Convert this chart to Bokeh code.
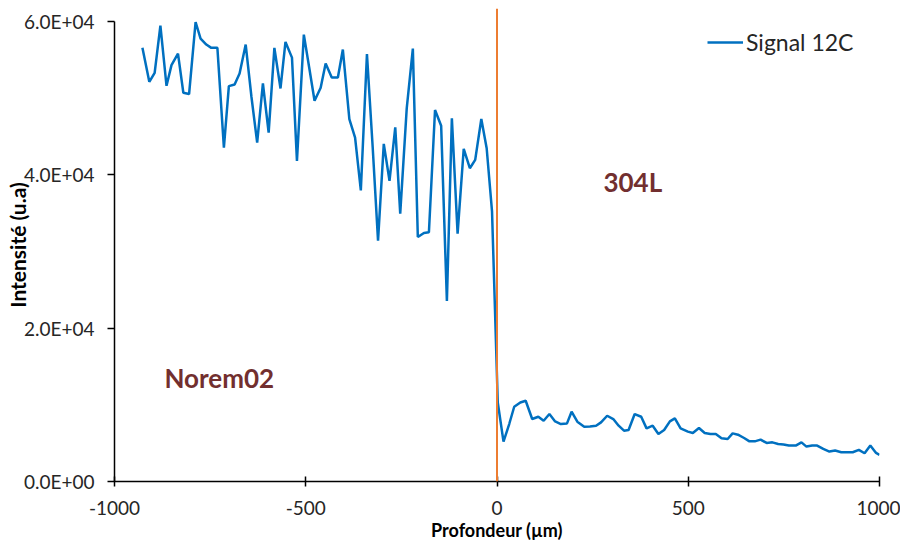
from bokeh.plotting import figure
from bokeh.models import Span, Range1d, FixedTicker, Legend, LegendItem
from bokeh.core.properties import value
from bokeh.embed import file_html
from bokeh.resources import INLINE

# Depth (µm) and 12C signal intensity (u.a)
depth = [-927, -909, -895, -880, -864, -851, -834, -820, -805, -788, -775, -760, -747, -731,
         -714, -701, -686, -673, -657, -642, -627, -612, -597, -582, -566, -553, -536, -523,
         -505, -491, -477, -461, -448, -432, -416, -403, -386, -371, -356, -340, -325, -311,
         -296, -281, -266, -253, -236, -220, -207, -191, -178, -162, -146, -131, -118, -103,
         -87, -71, -57, -41, -27, -13,
         2, 17, 32, 45, 61, 75, 92, 108, 122, 137, 152, 167, 183, 195, 210, 228, 243, 259,
         272, 288, 304, 318, 332, 344, 360, 377, 391, 407, 422, 437, 452, 465, 480, 499,
         512, 528, 543, 558, 572, 587, 603, 616, 630, 646, 660, 674, 689, 705, 720, 735,
         749, 763, 781, 796, 809, 824, 837, 853, 869, 884, 900, 916, 930, 946, 961, 976,
         991, 1000]
intensity = [56500, 52080, 53250, 59400, 51560, 54250, 55750, 50650, 50480, 59870, 57700, 56930,
             56500, 56500, 43500, 51520, 51730, 53160, 56930, 50130, 44150, 51860, 45450, 56500,
             51210, 57270, 55230, 41780, 58220, 53940, 49610, 51300, 54460, 52640, 52640, 56280,
             47230, 44800, 37920, 55680, 43550, 31390, 43990, 39180, 46140, 34900, 48610, 56400,
             31860, 32380, 32470, 48400, 46360, 23510, 47310, 32300, 43340, 40820, 41910, 47230,
             43420, 35190,
             10300, 5190, 7490, 9740, 10300, 10520, 8140, 8440, 7920, 8790, 7830, 7490, 7570,
             9090, 7790, 7140, 7180, 7270, 7700, 8570, 8140, 7270, 6620, 6710, 8790, 8440,
             6920, 7270, 6190, 6710, 7830, 8220, 6920, 6500, 6320, 6970, 6320, 6190, 6190,
             5620, 5540, 6270, 6100, 5670, 5230, 5230, 5450, 5020, 5100, 4890, 4810, 4680,
             4680, 5100, 4550, 4680, 4680, 4250, 3900, 4030, 3810, 3810, 3810, 4120, 3680,
             4680, 3720, 3470]

x_ticks = [-1000, -500, 0, 500, 1000]
x_tick_labels = ["-1000", "-500", "0", "500", "1000"]
y_ticks = [0, 20000, 40000, 60000]
y_tick_labels = ["0.0E+00", "2.0E+04", "4.0E+04", "6.0E+04"]

series_name = "Signal 12C"
region_labels = ["Norem02", "304L"]
interface_depth = 0

FONT = "Lato"
TICK_COLOR = "#262626"

p = figure(width=900, height=543, output_backend="svg", toolbar_location=None,
           x_range=Range1d(-1000, 1000), y_range=Range1d(0, 61630),
           min_border_left=114, min_border_right=21, min_border_top=8,
           min_border_bottom=62)
p.grid.visible = False
p.outline_line_color = None
p.background_fill_color = "white"
p.border_fill_color = "white"

r = p.line(depth, intensity, line_color="#0070C0", line_width=2.5)

p.add_layout(Span(location=interface_depth, dimension="height",
                  line_color="#ED7D31", line_width=2))

p.text(x=[-726, 355], y=[13550, 39050], text=region_labels,
       text_font=value(FONT), text_font_style="bold", text_font_size="26px",
       text_color="#722F2F", text_align="center", text_baseline="middle")

for ax in (p.xaxis[0], p.yaxis[0]):
    ax.axis_line_color = "black"
    ax.axis_line_width = 1.5
    ax.major_tick_line_color = "black"
    ax.major_tick_line_width = 1.5
    ax.minor_tick_line_color = None
    ax.major_label_text_font = FONT
    ax.major_label_text_font_size = "19px"
    ax.major_label_text_color = TICK_COLOR
    ax.axis_label_text_font = FONT
    ax.axis_label_text_font_style = "bold"
    ax.axis_label_text_color = "black"

xa = p.xaxis[0]
xa.ticker = FixedTicker(ticks=x_ticks)
xa.major_label_overrides = dict(zip(x_ticks, x_tick_labels))
xa.axis_label = "Profondeur (µm)"
xa.axis_label_text_font_size = "18px"
xa.major_tick_in = 5
xa.major_tick_out = 5
xa.major_label_standoff = 14
xa.axis_label_standoff = 1

ya = p.yaxis[0]
ya.ticker = FixedTicker(ticks=y_ticks)
ya.major_label_overrides = dict(zip(y_ticks, y_tick_labels))
ya.axis_label = "Intensité (u.a)"
ya.axis_label_text_font_size = "21px"
ya.bounds = (0, 60000)
ya.major_tick_in = 0
ya.major_tick_out = 7
ya.major_label_standoff = 13
ya.axis_label_standoff = -9

legend = Legend(items=[LegendItem(label=series_name, renderers=[r])],
                location=(593, 425), padding=0, margin=0, border_line_color=None,
                background_fill_alpha=0, label_text_font=FONT,
                label_text_font_size="23px", label_text_color=TICK_COLOR,
                glyph_width=36, glyph_height=24, label_height=24, label_standoff=3)
p.add_layout(legend)

open("out.html", "w").write(file_html(p, INLINE))
